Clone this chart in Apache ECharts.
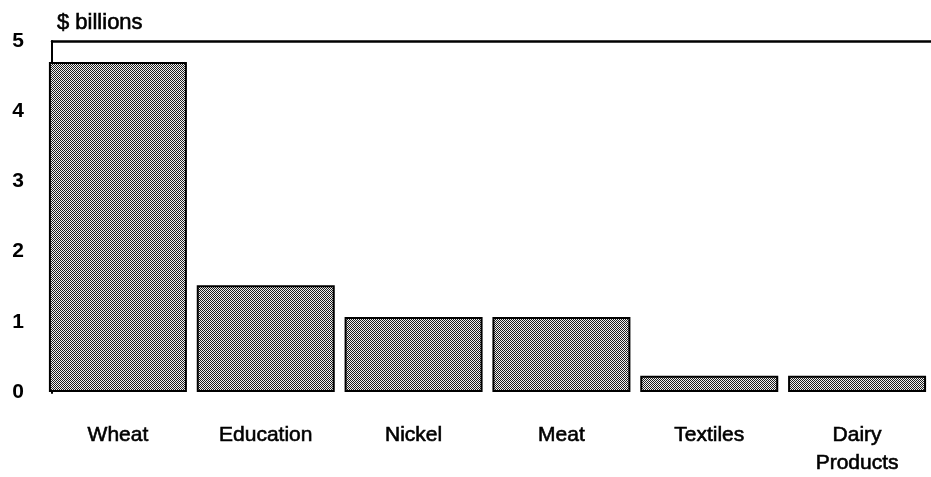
<!DOCTYPE html>
<html>
<head>
<meta charset="utf-8">
<title>$ billions</title>
<script src="https://cdn.jsdelivr.net/npm/echarts@6/dist/echarts.min.js"></script>
<style>
  html, body { margin: 0; padding: 0; background: #fff; }
  #chart { width: 931px; height: 477px; }
</style>
</head>
<body>
<div id="chart"></div>
<script>
// data
const categories = ['Wheat', 'Education', 'Nickel', 'Meat', 'Textiles', 'Dairy\nProducts']
const values = [4.7, 1.52, 1.07, 1.07, 0.23, 0.23]
const yTicks = [0, 1, 2, 3, 4, 5]

const font = '"Liberation Sans Narrow", "Arial Narrow", "Liberation Sans", sans-serif'

// dithered grey fill like the printed original
function makeDither() {
  const c = document.createElement('canvas')
  c.width = 2
  c.height = 2
  const ctx = c.getContext('2d')
  ctx.fillStyle = '#f2f2f2'
  ctx.fillRect(0, 0, 2, 2)
  ctx.fillStyle = '#1e1e1e'
  ctx.fillRect(0, 0, 1, 1)
  ctx.fillRect(1, 1, 1, 1)
  return c
}

const chart = echarts.init(document.getElementById('chart'))
chart.setOption({
  animation: false,
  title: {
    text: '$ billions',
    left: 52,
    top: 7,
    textStyle: {
      fontFamily: font, fontSize: 22, fontWeight: 'normal', color: '#000',
      textBorderColor: '#000', textBorderWidth: 0.6
    }
  },
  grid: [
    { left: 44, width: 900, top: 41, bottom: 84 },
    // frame: top rule and left rule
    { left: 52, right: 0, top: 41, bottom: 84 }
  ],
  xAxis: [
    {
      type: 'category',
      data: categories,
      gridIndex: 0,
      axisLine: { show: false },
      axisTick: { show: false },
      axisLabel: {
        margin: 29,
        interval: 0,
        color: '#000',
        fontFamily: font,
        fontSize: 21,
        lineHeight: 28,
        textBorderColor: '#000',
        textBorderWidth: 0.6
      }
    },
    {
      type: 'value',
      gridIndex: 1,
      position: 'top',
      min: 0,
      max: 1,
      axisLine: { show: true, onZero: false, lineStyle: { color: '#000', width: 2.5 } },
      axisTick: { show: false },
      axisLabel: { show: false },
      splitLine: { show: false }
    }
  ],
  yAxis: [
    {
      type: 'value',
      gridIndex: 0,
      min: yTicks[0],
      max: yTicks[yTicks.length - 1],
      interval: 1,
      axisLine: { show: false },
      axisTick: { show: false },
      splitLine: { show: false },
      axisLabel: {
        margin: 20,
        color: '#000',
        fontFamily: font,
        fontSize: 21,
        fontWeight: 'bold'
      }
    },
    {
      type: 'value',
      gridIndex: 1,
      min: 0,
      max: 1,
      axisLine: { show: true, onZero: false, lineStyle: { color: '#000', width: 2 } },
      axisTick: { show: false },
      axisLabel: { show: false },
      splitLine: { show: false }
    }
  ],
  series: [
    {
      type: 'bar',
      xAxisIndex: 0,
      yAxisIndex: 0,
      data: values,
      barWidth: 138,
      z: 5,
      itemStyle: {
        color: { image: makeDither(), repeat: 'repeat' },
        borderColor: '#000',
        borderWidth: 2
      }
    }
  ]
})
</script>
</body>
</html>
